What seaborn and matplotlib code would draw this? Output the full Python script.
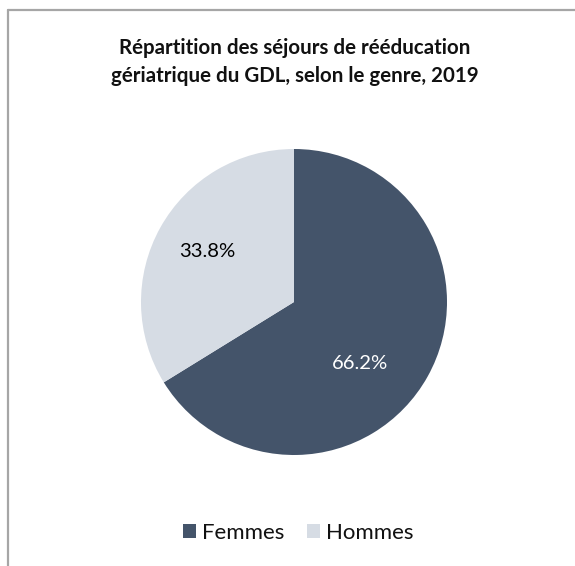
import matplotlib
matplotlib.use("Agg")
import matplotlib.pyplot as plt
import seaborn as sns
from matplotlib.patches import Rectangle
from matplotlib.lines import Line2D

sns.set_theme(style="white")
plt.rcParams['font.family'] = ['Lato', 'DejaVu Sans']

title = "Répartition des séjours de rééducation\ngériatrique du GDL, selon le genre, 2019"
categories = ["Femmes", "Hommes"]
values = [66.2, 33.8]
colors = ["#44546A", "#D6DCE4"]
label_colors = ["white", "black"]
# label anchor positions (in units of pie radius), as placed by the original chart
label_pos = [(0.43, -0.40), (-0.57, 0.33)]

W, H = 575, 566
fig = plt.figure(figsize=(W / 100, H / 100), dpi=100)
fig.patch.set_facecolor("white")

cx, cy, r = 294, 302, 153
ax = fig.add_axes([(cx - r) / W, (H - cy - r) / H, 2 * r / W, 2 * r / H])
wedges, _ = ax.pie(values, colors=colors, startangle=90, counterclock=False,
                   radius=1, wedgeprops=dict(linewidth=0))
ax.set_xlim(-1, 1)
ax.set_ylim(-1, 1)
ax.set_aspect("equal")
ax.axis("off")

for v, (lx, ly), c in zip(values, label_pos, label_colors):
    ax.text(lx, ly, f"{v:.1f}%", ha="center", va="center", color=c, fontsize=14.6)

fig.text(294.5 / W, 1 - 62 / H, title, ha="center", va="center", fontsize=14.8,
         fontweight="bold", color="#111111", linespacing=1.45)

handles = [Rectangle((0, 0), 1, 1, facecolor=col, edgecolor="none") for col in colors]
fig.legend(handles, categories, loc="center", bbox_to_anchor=(298 / W, 1 - 533 / H),
           ncol=2, frameon=False, fontsize=16, handlelength=0.6, handleheight=0.6,
           handletextpad=0.27, columnspacing=1.0, labelcolor="#111111")

# chart area border (top & left visible)
fig.add_artist(Line2D([7.5 / W, 1.0], [1 - 9.5 / H, 1 - 9.5 / H], color="#A6A6A6", lw=1.6,
                      transform=fig.transFigure))
fig.add_artist(Line2D([7.5 / W, 7.5 / W], [1 - 9.5 / H, 0], color="#A6A6A6", lw=1.6,
                      transform=fig.transFigure))

fig.savefig("out.png", dpi=100, facecolor="white")
